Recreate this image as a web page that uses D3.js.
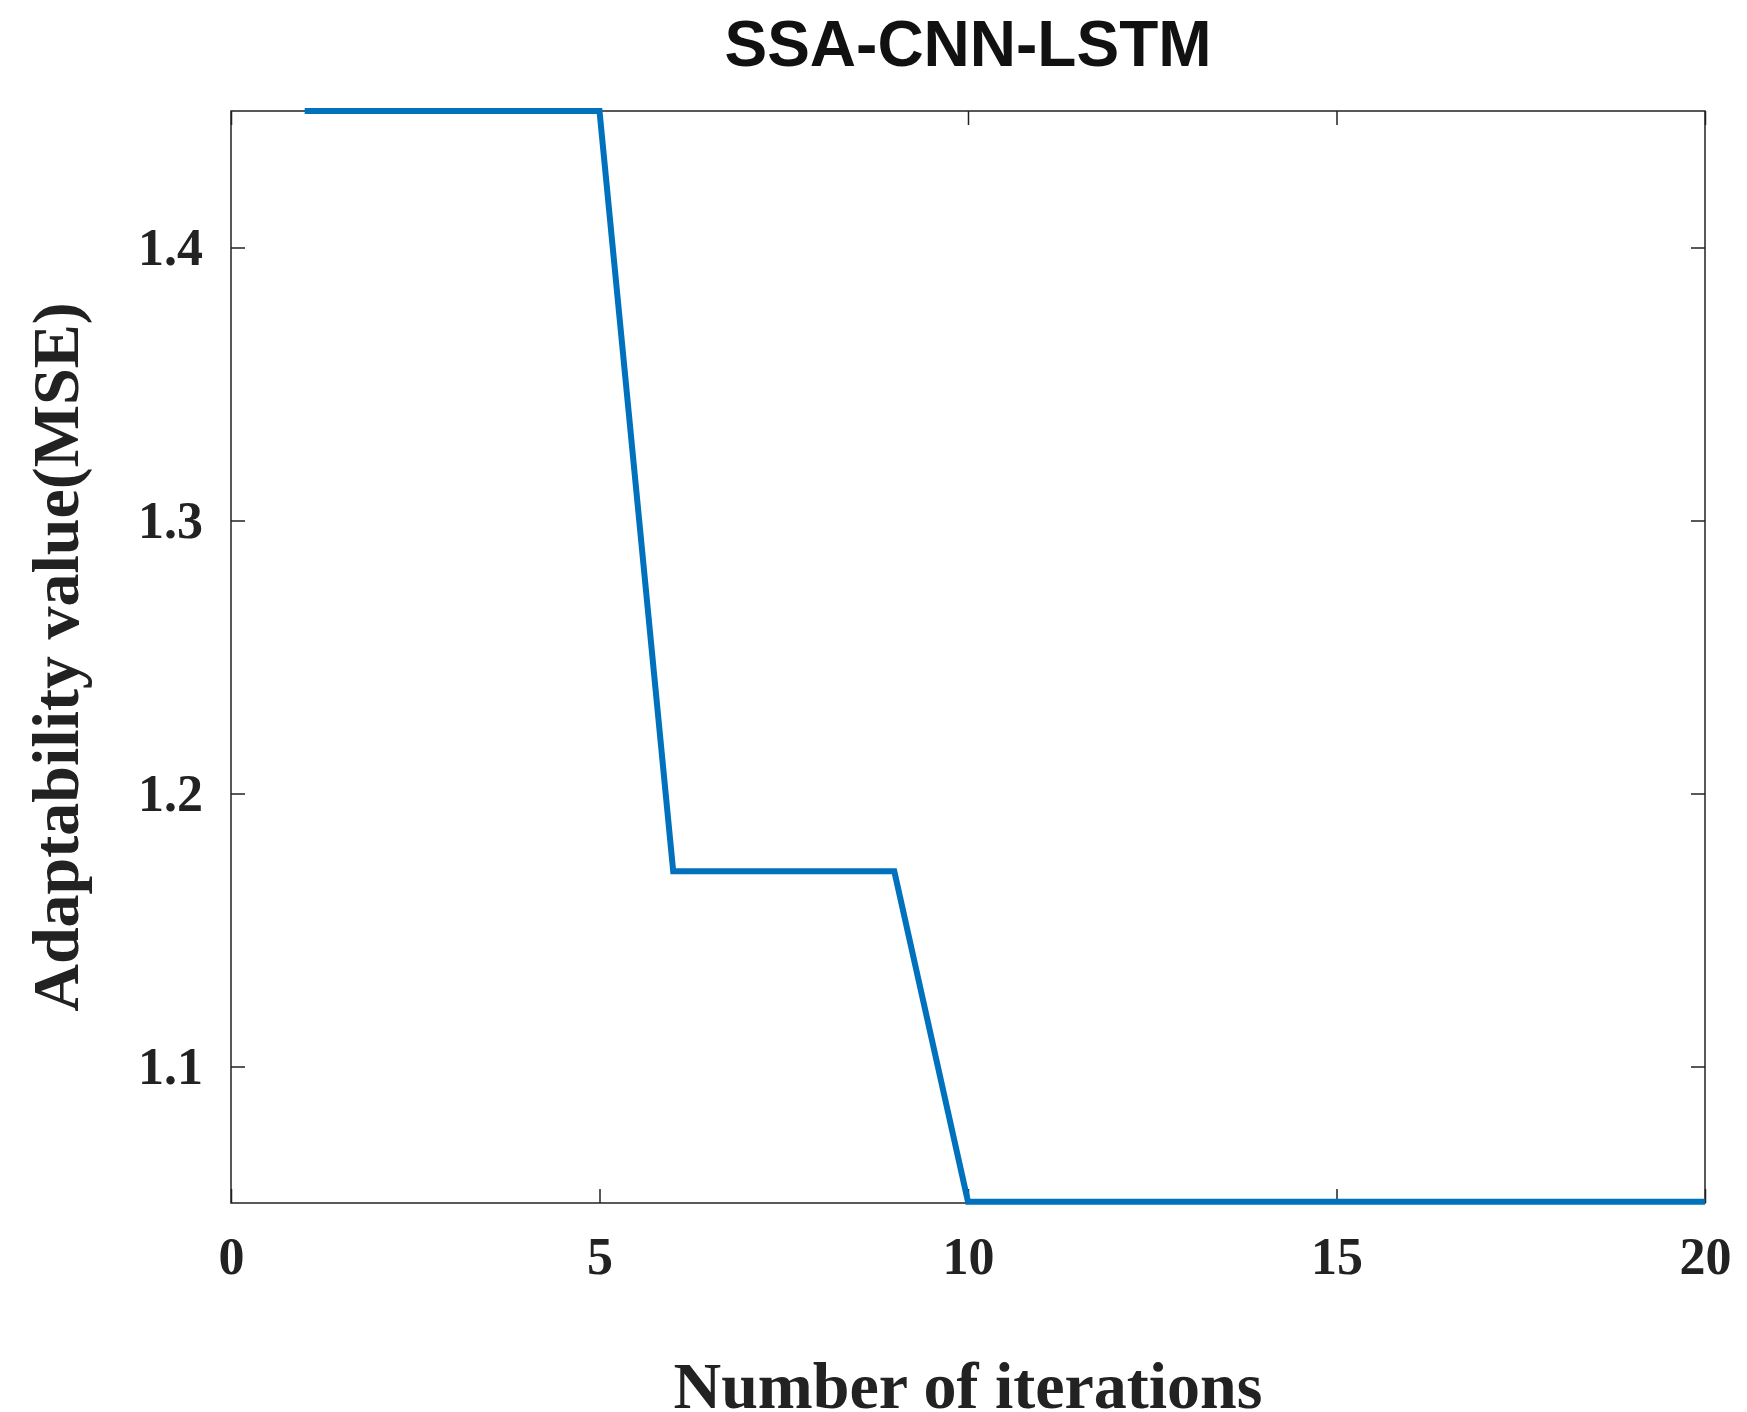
<!DOCTYPE html><html><head><meta charset="utf-8"><script src="https://cdn.jsdelivr.net/npm/d3@7"></script>
<style>body{margin:0;background:#fff}</style></head><body><svg id="c" width="1747" height="1412"></svg>
<script>
const iterations=[1,2,3,4,5,6,7,8,9,10,11,12,13,14,15,16,17,18,19,20];
const mseValues=[1.45,1.45,1.45,1.45,1.45,1.1715,1.1715,1.1715,1.1715,1.0505,1.0505,1.0505,1.0505,1.0505,1.0505,1.0505,1.0505,1.0505,1.0505,1.0505];
const xTicks=[0,5,10,15,20];
const yTicks=[1.1,1.2,1.3,1.4];
const L=231,R=1705,T=111,B=1203;
const svg=d3.select("#c");
const x=d3.scaleLinear().domain([0,20]).range([L,R]);
const y=d3.scaleLinear().domain([1.05,1.45]).range([B,T]);
const serif='"Liberation Serif","DejaVu Serif",serif';
const tl=14;
function ax(g){g.selectAll(".domain").remove();g.selectAll("line").attr("stroke","#222").attr("stroke-width",1.5);
 g.selectAll("text").attr("font-family",serif).attr("font-weight","bold").attr("font-size",52).attr("fill","#222");}
svg.append("g").attr("transform",`translate(0,${B})`).call(d3.axisBottom(x).tickValues(xTicks).tickSize(-tl).tickPadding(34).tickFormat(d3.format("d"))).call(ax);
svg.append("g").attr("transform",`translate(0,${T})`).call(d3.axisTop(x).tickValues(xTicks).tickSize(-tl).tickFormat("")).call(ax);
svg.append("g").attr("transform",`translate(${L},0)`).call(d3.axisLeft(y).tickValues(yTicks).tickSize(-tl).tickPadding(28).tickFormat(d3.format(".1f"))).call(ax);
svg.append("g").attr("transform",`translate(${R},0)`).call(d3.axisRight(y).tickValues(yTicks).tickSize(-tl).tickFormat("")).call(ax);
svg.append("rect").attr("x",L).attr("y",T).attr("width",R-L).attr("height",B-T).attr("fill","none").attr("stroke","#222").attr("stroke-width",1.5);
svg.append("path").datum(iterations.map((d,i)=>[d,mseValues[i]])).attr("fill","none").attr("stroke","#0072BD").attr("stroke-width",6)
 .attr("d",d3.line().x(d=>x(d[0])).y(d=>y(d[1])));
svg.append("text").attr("x",(L+R)/2).attr("y",66).attr("text-anchor","middle").attr("font-family",'"Liberation Sans Narrow","Liberation Sans",sans-serif').attr("font-weight","bold").attr("font-size",64).attr("fill","#111").text("SSA-CNN-LSTM");
svg.append("text").attr("x",(L+R)/2).attr("y",1408).attr("text-anchor","middle").attr("font-family",serif).attr("font-weight","bold").attr("font-size",66).attr("fill","#222").text("Number of iterations");
svg.append("text").attr("transform",`translate(78,${(T+B)/2}) rotate(-90)`).attr("text-anchor","middle").attr("font-family",serif).attr("font-weight","bold").attr("font-size",66).attr("fill","#222").text("Adaptability value(MSE)");
</script></body></html>
